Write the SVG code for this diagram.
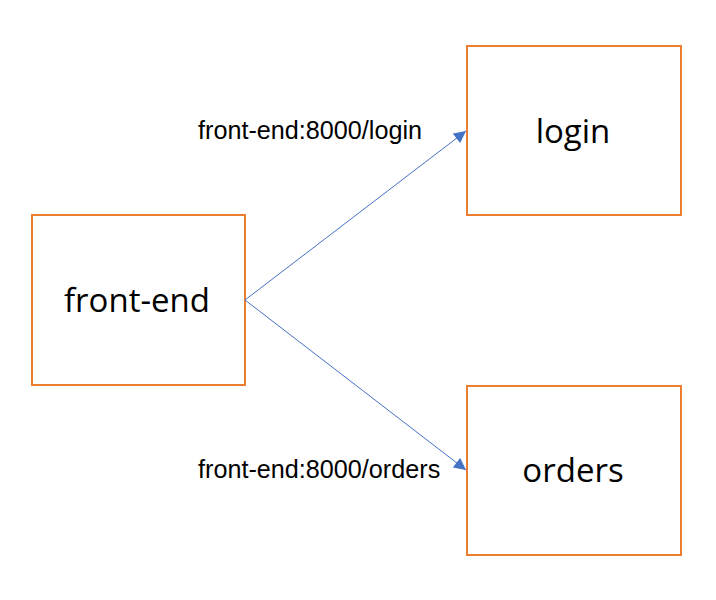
<svg xmlns="http://www.w3.org/2000/svg" width="716" height="600" viewBox="0 0 716 600">
<style>
.box{fill:#fff;stroke:#ED7D31;stroke-width:2}
.nl{font-family:"Open Sans","Liberation Sans",sans-serif;font-size:33px;fill:#000;text-anchor:middle}
.el{font-family:"Liberation Sans",Arial,sans-serif;font-size:25.2px;fill:#000}
.conn{stroke:#4472C4;stroke-width:1;fill:none}
</style>
<defs>
<marker id="ah" viewBox="0 0 10 10" refX="10" refY="5" markerWidth="13" markerHeight="12" markerUnits="userSpaceOnUse" orient="auto">
<path d="M0,0 L10,5 L0,10 z" fill="#4472C4"/>
</marker>
</defs>
<rect width="716" height="600" fill="#fff"/>
<g id="front-end"><rect class="box" x="32" y="215" width="213" height="170"/><text class="nl" x="137" y="312">front-end</text></g>
<g id="login"><rect class="box" x="467" y="46" width="214" height="169"/><text class="nl" x="573" y="143">login</text></g>
<g id="orders"><rect class="box" x="467" y="386" width="214" height="169"/><text class="nl" x="573" y="482">orders</text></g>
<g id="connectors">
<line class="conn" x1="245" y1="300" x2="466" y2="131" marker-end="url(#ah)"/>
<line class="conn" x1="245" y1="300" x2="466" y2="470" marker-end="url(#ah)"/>
<text class="el" x="198" y="139">front-end:8000/login</text>
<text class="el" x="198" y="478">front-end:8000/orders</text>
</g>
</svg>
